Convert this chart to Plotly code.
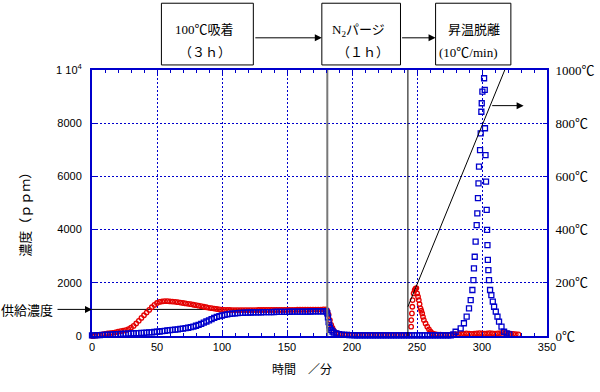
import plotly.graph_objects as go

# ---------------- data ----------------
# adsorption stage (0-180 min), red circles
red_time_adsorb = [0, 2, 4, 6, 8, 10, 12, 14, 16, 18, 20, 22, 24, 26, 28, 30, 32, 34, 36, 38,
                   40, 42, 44, 46, 48, 50, 52, 54, 56, 58, 60, 62, 64, 66, 68, 70, 72, 74, 76, 78,
                   80, 82, 84, 86, 88, 90, 92, 94, 96, 98, 100, 102, 104, 106, 108, 110, 112, 114, 116, 118,
                   120, 122, 124, 126, 128, 130, 132, 134, 136, 138, 140, 142, 144, 146, 148, 150, 152, 154, 156, 158,
                   160, 162, 164, 166, 168, 170, 172, 174, 176, 178, 180]
red_ppm_adsorb = [0, 10, 20, 40, 60, 80, 100, 110, 120, 140, 160, 180, 200, 220, 260, 310, 380, 470, 570, 680,
                  780, 880, 980, 1080, 1170, 1240, 1280, 1300, 1310, 1310, 1300, 1295, 1285, 1270, 1255, 1240, 1225, 1210, 1195, 1175,
                  1160, 1140, 1120, 1100, 1080, 1060, 1045, 1030, 1015, 1000, 990, 985, 980, 978, 975, 975, 975, 975, 975, 975,
                  975, 975, 975, 975, 978, 978, 978, 980, 980, 980, 980, 980, 980, 982, 982, 985, 985, 985, 985, 988,
                  988, 990, 990, 990, 992, 992, 995, 995, 995, 998, 1000]

# purge + desorption stage, red circles
red_time_desorb = [181, 182, 183, 184, 185, 186, 188, 190, 192, 194, 196, 198,
                   200, 202, 204, 206, 208, 210, 212, 214, 216, 218, 220, 222, 224, 226, 228, 230, 232, 234,
                   236, 238, 240, 242, 244,
                   245.5, 245.6, 246.1, 246.4, 246.6, 247.4, 248.2, 248.8, 249.5, 250.1, 250.8, 251.4, 252.0,
                   252.7, 253.3, 254.0, 254.6, 255.3, 256.6, 257.9, 259.2, 260.5,
                   262, 264, 266, 268, 270, 272, 274, 276, 278, 280, 282, 284, 286, 288, 290, 292, 294, 296,
                   298, 300, 302, 304, 306, 308, 310, 312, 314, 316, 318, 320, 322, 324, 326, 328]
red_ppm_desorb = [950, 800, 600, 420, 300, 200, 120, 80, 60, 55, 50, 50,
                  45, 45, 45, 40, 40, 40, 40, 40, 40, 40, 40, 40, 40, 35, 35, 35, 35, 35,
                  35, 35, 35, 35, 35,
                  350, 600, 850, 1100, 1350, 1600, 1720, 1780, 1800, 1600, 1480, 1350, 1200,
                  1040, 950, 850, 720, 600, 470, 350, 250, 160,
                  100, 70, 55, 50, 45, 45, 45, 50, 50, 60, 70, 80, 90, 100, 90, 80, 90, 100,
                  110, 100, 90, 100, 110, 100, 90, 100, 110, 120, 110, 100, 90, 80, 70, 60]

# adsorption stage, blue squares
blue_time_adsorb = red_time_adsorb
blue_ppm_adsorb = [20, 25, 30, 35, 40, 45, 50, 55, 60, 65, 70, 75, 80, 85, 90, 95, 100, 105, 110, 115,
                   120, 125, 135, 140, 150, 160, 170, 180, 195, 210, 220, 230, 240, 250, 265, 280, 295, 310, 330, 355,
                   385, 420, 455, 500, 545, 590, 635, 680, 720, 745, 770, 795, 815, 830, 842, 852, 860, 866, 872, 876,
                   880, 883, 886, 888, 890, 892, 894, 896, 898, 900, 902, 904, 906, 908, 909, 910, 912, 913, 914, 915,
                   916, 918, 919, 920, 921, 922, 924, 925, 926, 928, 930]

# purge + desorption stage, blue squares
blue_time_desorb = [181, 181.5, 182, 182.5, 183, 184, 185, 186, 188, 190, 192, 194, 196, 198, 200,
                    202, 204, 206, 208, 210, 212, 214, 216, 218, 220, 222, 224, 226, 228, 230, 232, 234, 236, 238,
                    240, 242, 244, 246, 248, 250, 252, 254, 256, 258, 260, 262, 264, 266, 268, 270, 272, 274, 276,
                    278, 279.7, 283.6, 286.1, 288.2, 290.0, 291.3, 292.6, 293.4, 293.8, 294.4, 295.1, 295.9,
                    296.4, 296.9, 297.3, 297.7, 298.5, 299.0, 299.5, 299.8, 300.3, 301.6, 302.1, 302.3, 302.7,
                    303.1, 303.6, 303.9, 304.2, 304.5, 304.9, 305.4, 306.2, 307.2, 308.3, 309.3, 310.6, 311.9,
                    313.1, 315.0, 317.0, 319.0, 321.0]
blue_ppm_desorb = [850, 700, 520, 400, 310, 230, 170, 130, 95, 70, 55, 45, 40, 35, 30,
                   28, 26, 25, 25, 24, 24, 23, 23, 22, 22, 22, 21, 21, 21, 20, 20, 20, 20, 20,
                   20, 20, 20, 20, 20, 20, 20, 20, 20, 20, 20, 20, 20, 20, 22, 22, 22, 24, 25,
                   60, 160, 290, 480, 730, 1040, 1350, 1730, 2100, 2540, 2980, 3550, 4170,
                   4610, 5180, 5740, 6370, 6990, 7620, 8430, 8750, 9190, 9690, 9250, 7810, 6800,
                   5800, 4740, 3990, 3420, 2860, 2480, 2100, 1730, 1540, 1290, 1100, 915, 730,
                   540, 350, 160, 100, 60]

# temperature program (right axis)
temp_time = [243, 317.5]
temp_degc = [110, 1000]

# stage boundaries and supply concentration
event_times = [181, 243]
supply_ppm = 1000

y_tickvals = [0, 2000, 4000, 6000, 8000, 10000]
y_ticktext = ["0", "2000", "4000", "6000", "8000", "1 10<sup>4</sup>"]
y2_tickvals = [0, 200, 400, 600, 800, 1000]
y2_ticktext = ["0℃", "200℃", "400℃", "600℃", "800℃", "1000℃"]
x_tickvals = [0, 50, 100, 150, 200, 250, 300, 350]

stage_labels = [("100℃吸着", "（３ｈ）"), ("N<sub>2</sub>パージ", "（１ｈ）"), ("昇温脱離", "(10℃/min)")]

# ---------------- figure ----------------
RED = "rgb(228,0,0)"
BLUE = "rgb(0,0,204)"
JP = "Noto Sans CJK JP"
SERIF_JP = "Liberation Serif, Noto Sans CJK JP"

fig = go.Figure()

# supply concentration line
fig.add_trace(go.Scatter(x=[0, event_times[0]], y=[supply_ppm, supply_ppm], mode="lines",
                         line=dict(color="black", width=1), hoverinfo="skip", showlegend=False))

fig.add_trace(go.Scatter(x=red_time_adsorb + red_time_desorb, y=red_ppm_adsorb + red_ppm_desorb,
                         mode="markers", cliponaxis=False, showlegend=False,
                         marker=dict(symbol="circle-open", size=4.5, color=RED, line=dict(width=1.3, color=RED))))
fig.add_trace(go.Scatter(x=blue_time_adsorb + blue_time_desorb, y=blue_ppm_adsorb + blue_ppm_desorb,
                         mode="markers", cliponaxis=False, showlegend=False,
                         marker=dict(symbol="square-open", size=5, color=BLUE, line=dict(width=1.3, color=BLUE))))

# stage boundary lines
fig.add_trace(go.Scatter(x=[event_times[0]] * 2, y=[0, 10000], mode="lines",
                         line=dict(color="rgb(120,120,120)", width=2), hoverinfo="skip", showlegend=False))
fig.add_trace(go.Scatter(x=[event_times[1]] * 2, y=[0, 10000], mode="lines",
                         line=dict(color="black", width=1), hoverinfo="skip", showlegend=False))

# temperature line
fig.add_trace(go.Scatter(x=temp_time, y=temp_degc, yaxis="y2", mode="lines",
                         line=dict(color="black", width=1), hoverinfo="skip", showlegend=False))

axis_common = dict(showline=True, linecolor=BLUE, linewidth=2, ticks="inside", tickcolor=BLUE,
                   ticklen=4, tickwidth=1, zeroline=False,
                   tickfont=dict(family="Liberation Sans", size=11, color="black"))

fig.update_layout(
    width=600, height=392,
    margin=dict(l=92, r=53, t=70, b=56, autoexpand=False),
    paper_bgcolor="white", plot_bgcolor="white",
    xaxis=dict(range=[0, 350], tickvals=x_tickvals, mirror="ticks",
               showgrid=True, gridcolor=BLUE, griddash="2px,2px", gridwidth=1,
               minor=dict(dtick=10, tick0=0, ticks="inside", ticklen=3, tickcolor=BLUE, showgrid=False),
               **axis_common),
    yaxis=dict(range=[0, 10000], tickvals=y_tickvals, ticktext=y_ticktext,
               showgrid=True, gridcolor=BLUE, griddash="2px,2px", gridwidth=1,
               ticklabelstandoff=6, **axis_common),
    yaxis2=dict(range=[0, 1000], overlaying="y", side="right", tickvals=y2_tickvals, ticktext=y2_ticktext,
                showgrid=False, showline=True, linecolor=BLUE, linewidth=2, ticks="inside", tickcolor=BLUE,
                ticklen=4, zeroline=False, ticklabelstandoff=4,
                tickfont=dict(family=SERIF_JP, size=13, color="black")),
)

# axis titles
fig.add_annotation(text="濃度（ｐｐｍ）", xref="paper", yref="paper", x=-0.173, y=0.47,
                   textangle=-90, showarrow=False, font=dict(family=JP, size=13, color="black"))
fig.add_annotation(text="時間　／分", xref="paper", yref="paper", x=0.461, y=-0.162,
                   showarrow=False, font=dict(family=JP, size=12, color="black"))

# supply concentration marker
fig.add_annotation(text="供給濃度", xref="paper", yref="y", x=-0.082, y=supply_ppm, xanchor="right",
                   showarrow=False, font=dict(family=JP, size=13, color="black"))
fig.add_annotation(text="", xref="x", yref="y", x=0, y=supply_ppm, ax=-36, ay=0,
                   showarrow=True, arrowhead=2, arrowsize=1.4, arrowwidth=1, arrowcolor="black")

# temperature axis arrow
fig.add_annotation(text="", xref="x", yref="y2", x=332, y=866, axref="x", ayref="y2", ax=306.7, ay=866,
                   showarrow=True, arrowhead=2, arrowsize=1.4, arrowwidth=1, arrowcolor="black")

# stage boxes
box_x = [(53.4, 124.1), (176.8, 237.3), (264.3, 322.2)]
line1_x = [62.1, 183.3, 272.0]
line2_x = [65.0, 187.1, 265.6]
for (x0, x1), lx1, lx2, (t1, t2) in zip(box_x, line1_x, line2_x, stage_labels):
    fig.add_shape(type="rect", xref="x", yref="paper", x0=x0, x1=x1, y0=1.019, y1=1.251,
                  line=dict(color="black", width=1), fillcolor="white")
    fig.add_annotation(text=t1, xref="x", yref="paper", x=lx1, y=1.188, xanchor="left",
                       showarrow=False, font=dict(family=SERIF_JP, size=13, color="black"))
    fig.add_annotation(text=t2, xref="x", yref="paper", x=lx2, y=1.102, xanchor="left",
                       showarrow=False, font=dict(family=SERIF_JP, size=13, color="black"))

for (head_x, tail_px) in [(box_x[1][0], -68), (box_x[2][0], -35)]:
    fig.add_annotation(text="", xref="x", yref="paper", x=head_x, y=1.121, ax=tail_px, ay=0,
                       showarrow=True, arrowhead=2, arrowsize=1.4, arrowwidth=1, arrowcolor="black")

# remove the browser's default 8px page margin so the figure sits at the window origin
fig.write_html("out.html", config={"displayModeBar": False},
               post_script="document.body.style.margin='0';")
